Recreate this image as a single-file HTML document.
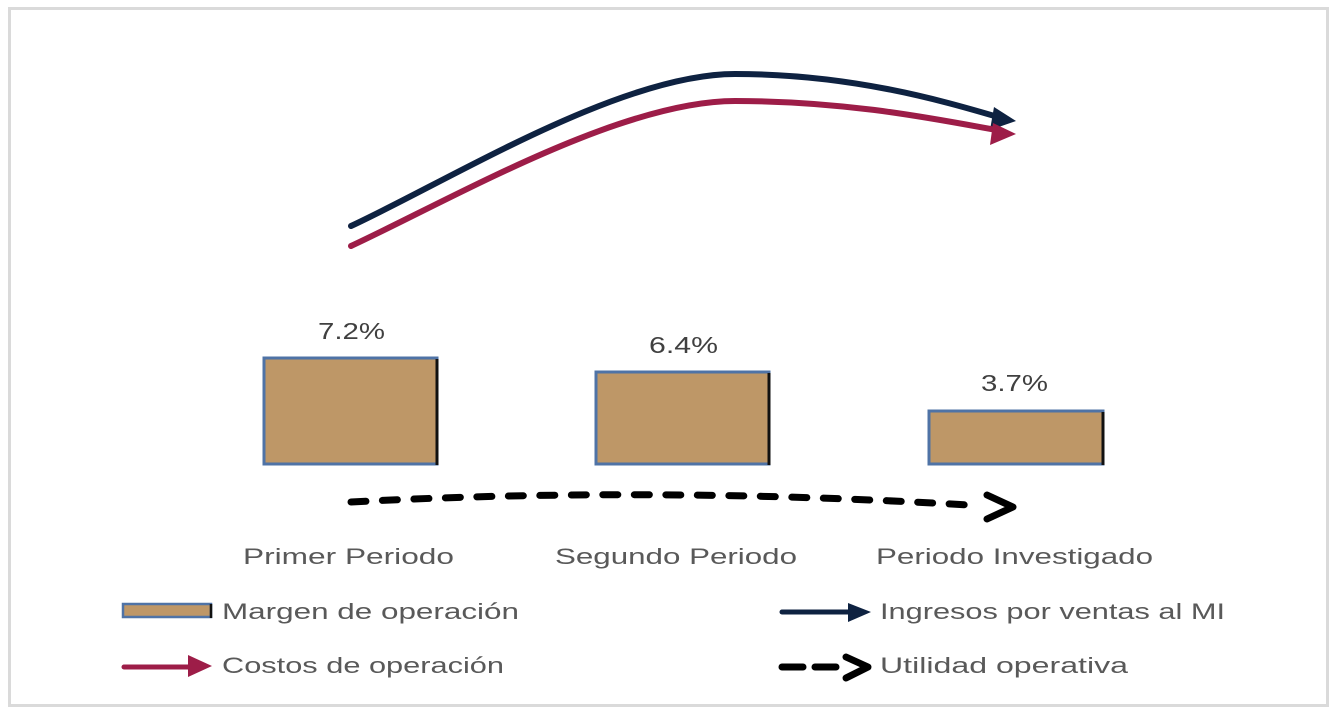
<!DOCTYPE html>
<html>
<head>
<meta charset="utf-8">
<style>
  html,body{margin:0;padding:0;background:#fff;}
  svg{display:block;}
  text{font-family:"Liberation Sans", Arial, sans-serif;}
</style>
</head>
<body>
<svg width="1335" height="714" viewBox="0 0 1335 714" xmlns="http://www.w3.org/2000/svg">
  <rect x="0" y="0" width="1335" height="714" fill="#fff"/>
  <!-- outer frame -->
  <rect x="9.5" y="8.5" width="1318" height="697" fill="#fff" stroke="#DADADA" stroke-width="3"/>

  <!-- Ingresos curve (navy) -->
  <path d="M351,226 C450,180 620,74 735,74 C850,74 940,100 998,117" fill="none" stroke="#0E2241" stroke-width="6" stroke-linecap="round"/>
  <polygon points="994,107 1016,121 990,130" fill="#0E2241"/>

  <!-- Costos curve (red) -->
  <path d="M351,246 C450,200 620,101 735,101 C850,101 940,120 996,130" fill="none" stroke="#9D1D48" stroke-width="6" stroke-linecap="round"/>
  <polygon points="993,123 1016,134 990,145" fill="#9D1D48"/>

  <!-- Bars -->
  <g>
    <rect x="264" y="358" width="173" height="106" fill="#BE9767" stroke="#4F73A6" stroke-width="3"/>
    <line x1="437" y1="359" x2="437" y2="465" stroke="#111" stroke-width="3"/>
    <rect x="596" y="372" width="173" height="92" fill="#BE9767" stroke="#4F73A6" stroke-width="3"/>
    <line x1="769" y1="373" x2="769" y2="465" stroke="#111" stroke-width="3"/>
    <rect x="929" y="411" width="174" height="53" fill="#BE9767" stroke="#4F73A6" stroke-width="3"/>
    <line x1="1103" y1="412" x2="1103" y2="465" stroke="#111" stroke-width="3"/>
  </g>

  <!-- percent labels -->
  <text x="318" y="339" font-size="23" fill="#404040" textLength="67" lengthAdjust="spacingAndGlyphs">7.2%</text>
  <text x="649" y="353" font-size="23" fill="#404040" textLength="69" lengthAdjust="spacingAndGlyphs">6.4%</text>
  <text x="981" y="391" font-size="23" fill="#404040" textLength="67" lengthAdjust="spacingAndGlyphs">3.7%</text>

  <!-- Utilidad dashed curve -->
  <path d="M351,502 Q650,486 968,505" fill="none" stroke="#000" stroke-width="7" stroke-linecap="round" stroke-dasharray="15 16.5"/>
  <polyline points="987,495 1013,507 987,519" fill="none" stroke="#000" stroke-width="7" stroke-linecap="round" stroke-linejoin="round"/>

  <!-- category labels -->
  <text x="243" y="564" font-size="22" fill="#595959" textLength="211" lengthAdjust="spacingAndGlyphs">Primer Periodo</text>
  <text x="555" y="564" font-size="22" fill="#595959" textLength="242" lengthAdjust="spacingAndGlyphs">Segundo Periodo</text>
  <text x="876" y="564" font-size="22" fill="#595959" textLength="277" lengthAdjust="spacingAndGlyphs">Periodo Investigado</text>

  <!-- Legend -->
  <rect x="123" y="604" width="88" height="13" fill="#BE9767" stroke="#4F73A6" stroke-width="2.5"/>
  <line x1="211" y1="604" x2="211" y2="618" stroke="#111" stroke-width="2.5"/>
  <text x="222" y="619" font-size="22" fill="#595959" textLength="297" lengthAdjust="spacingAndGlyphs">Margen de operación</text>

  <line x1="124" y1="667" x2="192" y2="667" stroke="#9D1D48" stroke-width="5" stroke-linecap="round"/>
  <polygon points="188,655 212,666 188,677" fill="#9D1D48"/>
  <text x="222" y="673" font-size="22" fill="#595959" textLength="282" lengthAdjust="spacingAndGlyphs">Costos de operación</text>

  <line x1="782" y1="612" x2="852" y2="612" stroke="#0E2241" stroke-width="5" stroke-linecap="round"/>
  <polygon points="848,603 871,612 848,622" fill="#0E2241"/>
  <text x="880" y="619" font-size="22" fill="#595959" textLength="345" lengthAdjust="spacingAndGlyphs">Ingresos por ventas al MI</text>

  <line x1="782" y1="667" x2="803" y2="667" stroke="#000" stroke-width="7" stroke-linecap="round"/>
  <line x1="815" y1="667" x2="836" y2="667" stroke="#000" stroke-width="7" stroke-linecap="round"/>
  <polyline points="846,657 868,667 846,678" fill="none" stroke="#000" stroke-width="7" stroke-linecap="round" stroke-linejoin="round"/>
  <text x="880" y="673" font-size="22" fill="#595959" textLength="248" lengthAdjust="spacingAndGlyphs">Utilidad operativa</text>
</svg>
</body>
</html>
